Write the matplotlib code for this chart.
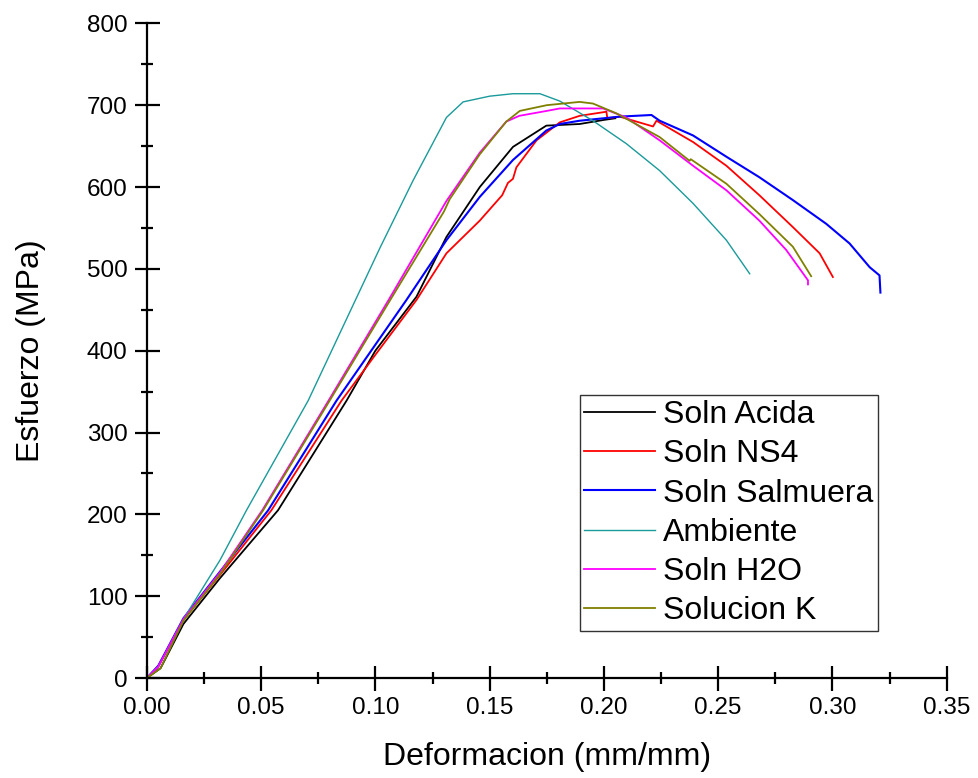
import matplotlib
matplotlib.use("Agg")
import matplotlib.pyplot as plt
from matplotlib.ticker import MultipleLocator

plt.rcParams['font.family'] = ['Liberation Sans', 'DejaVu Sans']

# strain (mm/mm) / stress (MPa)
acida_x = [0, 0.006, 0.016, 0.032, 0.0574, 0.0874, 0.100, 0.118, 0.1311, 0.1457,
           0.1602, 0.1748, 0.1894, 0.200, 0.205]
acida_y = [0, 12, 66, 122, 205, 339, 400, 466, 539, 600,
           649, 675, 677, 682, 684]

ns4_x = [0, 0.005, 0.016, 0.032, 0.0545, 0.0852, 0.100, 0.118, 0.1311, 0.1457,
         0.1555, 0.158, 0.1602, 0.1617, 0.1705, 0.1807, 0.1894, 0.2011, 0.2015,
         0.2069, 0.2215, 0.223, 0.239, 0.2536, 0.268, 0.2827, 0.2944, 0.3002]
ns4_y = [0, 14, 71, 126, 205, 339, 395, 462, 519, 559,
         590, 605, 610, 624, 657, 679, 687, 692, 684,
         686, 674, 681, 655, 626, 590, 551, 519, 490]

salm_x = [0, 0.005, 0.016, 0.032, 0.0531, 0.083, 0.1136, 0.1311, 0.1457, 0.1602,
          0.1748, 0.1807, 0.1894, 0.2069, 0.2208, 0.2244, 0.239, 0.2536, 0.268,
          0.2827, 0.2973, 0.3075, 0.3163, 0.3206, 0.321]
salm_y = [0, 15, 73, 130, 205, 339, 462, 535, 588, 633,
          669, 677, 681, 686, 688, 681, 663, 637, 612,
          584, 555, 531, 502, 492, 471]

amb_x = [0, 0.005, 0.016, 0.032, 0.0436, 0.0706, 0.1019, 0.1165, 0.1311, 0.1384,
         0.150, 0.1602, 0.172, 0.1807, 0.1952, 0.2098, 0.2244, 0.239, 0.2536, 0.2638]
amb_y = [0, 14, 72, 144, 205, 339, 525, 608, 685, 704,
         711, 714, 714, 705, 681, 653, 620, 580, 535, 494]

h2o_x = [0, 0.005, 0.016, 0.032, 0.0505, 0.0795, 0.106, 0.1311, 0.1457, 0.1573,
         0.163, 0.175, 0.1807, 0.1996, 0.2098, 0.2244, 0.239, 0.2536, 0.268,
         0.2798, 0.2893, 0.2893]
h2o_y = [0, 14, 72, 129, 205, 339, 463, 583, 642, 680,
         687, 693, 696, 696, 685, 657, 626, 596, 559,
         523, 486, 481]

solk_x = [0, 0.006, 0.016, 0.032, 0.0509, 0.080, 0.1063, 0.130, 0.1325, 0.1457,
          0.1573, 0.1632, 0.175, 0.1894, 0.1952, 0.2055, 0.2244, 0.2375, 0.238,
          0.2536, 0.268, 0.2827, 0.2907]
solk_y = [0, 12, 70, 127, 205, 339, 461, 570, 585, 640,
          680, 693, 700, 704, 702, 690, 661, 632, 634,
          604, 567, 527, 491]

fig = plt.figure(figsize=(9.79, 7.78), dpi=100)
ax = fig.add_axes([0.150, 0.1285, 0.817, 0.8415])

ax.plot(acida_x, acida_y, color='black', lw=1.3, label='Soln Acida')
ax.plot(ns4_x, ns4_y, color='#ff0000', lw=1.3, label='Soln NS4')
ax.plot(salm_x, salm_y, color='#0000ff', lw=1.5, label='Soln Salmuera')
ax.plot(amb_x, amb_y, color='#1a9a9a', lw=1.0, label='Ambiente')
ax.plot(h2o_x, h2o_y, color='#ff00ff', lw=1.3, label='Soln H2O')
ax.plot(solk_x, solk_y, color='#808000', lw=1.3, label='Solucion K')

ax.set_xlim(0, 0.35)
ax.set_ylim(0, 800)
ax.xaxis.set_major_locator(MultipleLocator(0.05))
ax.xaxis.set_minor_locator(MultipleLocator(0.025))
ax.yaxis.set_major_locator(MultipleLocator(100))
ax.yaxis.set_minor_locator(MultipleLocator(50))
ax.xaxis.set_major_formatter(plt.FormatStrFormatter('%.2f'))

ax.spines['top'].set_visible(False)
ax.spines['right'].set_visible(False)
for s in ('left', 'bottom'):
    ax.spines[s].set_linewidth(1.6)

ax.tick_params(which='major', direction='inout', length=18, width=1.6,
               labelsize=17.5, pad=5)
ax.tick_params(which='minor', direction='inout', length=9, width=1.6)

ax.set_xlabel('Deformacion (mm/mm)', fontsize=23, labelpad=16)
ax.set_ylabel('Esfuerzo (MPa)', fontsize=23, labelpad=29)

leg = ax.legend(loc='upper left', bbox_to_anchor=(0.541, 0.432), borderaxespad=0,
                fontsize=23, frameon=True, fancybox=False, edgecolor='black',
                handlelength=2.2, handletextpad=0.25, labelspacing=0.29,
                borderpad=0.15)
leg.get_frame().set_linewidth(1.0)

plt.savefig('out.png', dpi=100)
